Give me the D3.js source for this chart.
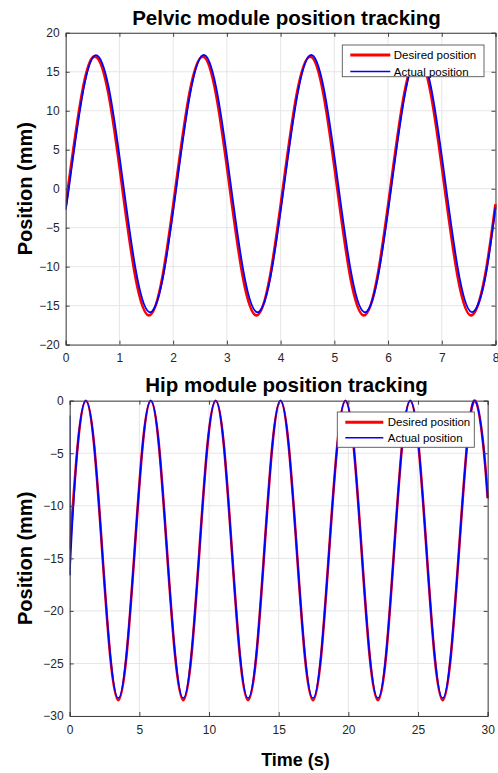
<!DOCTYPE html>
<html>
<head>
<meta charset="utf-8">
<script src="https://cdn.jsdelivr.net/npm/d3@7"></script>
<style>
html,body{margin:0;padding:0;background:#fff;}
svg{display:block;font-family:"Liberation Sans",Arial,sans-serif;}
</style>
</head>
<body>
<svg id="chart" width="498" height="773"></svg>
<script>
// ---------- DATA ----------
const pelvicTime = [0, 0.05, 0.30, 0.55, 0.80, 1.05, 1.30, 1.55, 1.80, 2.05, 2.30, 2.55, 2.80, 3.05, 3.30, 3.55, 3.80,
  4.05, 4.30, 4.55, 4.80, 5.05, 5.30, 5.55, 5.80, 6.05, 6.30, 6.55, 6.80, 7.05, 7.30, 7.55, 7.80, 8];
const pelvicDesired = [-2.0,
  0.35, 12.09, 16.95, 12.09, 0.35, -11.39, -16.25, -11.39,
  0.35, 12.09, 16.95, 12.09, 0.35, -11.39, -16.25, -11.39,
  0.35, 12.09, 16.95, 12.09, 0.35, -11.39, -16.25, -11.39,
  0.35, 12.09, 16.95, 12.09, 0.35, -11.39, -16.25, -11.39,
  -2.0];
const pelvicActual = [-2.4,
  -0.39, 11.56, 17.12, 13.02, 1.69, -10.26, -15.82, -11.72,
  -0.39, 11.56, 17.12, 13.02, 1.69, -10.26, -15.82, -11.72,
  -0.39, 11.56, 17.12, 13.02, 1.69, -10.26, -15.82, -11.72,
  -0.39, 11.56, 17.12, 13.02, 1.69, -10.26, -15.82, -11.72,
  -2.4];

const hipTime = [0, 0.58, 1.16, 1.75, 2.33, 2.91, 3.49, 4.07, 4.66, 5.24, 5.82, 6.40, 6.98, 7.57, 8.15, 8.73,
  9.31, 9.89, 10.48, 11.06, 11.64, 12.22, 12.80, 13.39, 13.97, 14.55, 15.13, 15.71, 16.30, 16.88, 17.46,
  18.04, 18.62, 19.21, 19.79, 20.37, 20.95, 21.53, 22.12, 22.70, 23.28, 23.86, 24.44, 25.03, 25.61, 26.19,
  26.77, 27.35, 27.94, 28.52, 29.10, 29.68, 30];
const hipDesired = [
  -14.25, -4.17, 0, -4.17, -14.25, -24.33, -28.5, -24.33,
  -14.25, -4.17, 0, -4.17, -14.25, -24.33, -28.5, -24.33,
  -14.25, -4.17, 0, -4.17, -14.25, -24.33, -28.5, -24.33,
  -14.25, -4.17, 0, -4.17, -14.25, -24.33, -28.5, -24.33,
  -14.25, -4.17, 0, -4.17, -14.25, -24.33, -28.5, -24.33,
  -14.25, -4.17, 0, -4.17, -14.25, -24.33, -28.5, -24.33,
  -14.25, -4.17, 0, -4.17, -9.28];
// initial jump of the actual position at t = 0
const hipActualStartTime = [0, 0];
const hipActualStart = [-1.4, -16.6];
const hipActualTime = [0, 0.15, 0.58, 1.16, 1.75, 2.33, 2.91, 3.49, 4.07, 4.66, 5.24, 5.82, 6.40, 6.98, 7.57, 8.15, 8.73,
  9.31, 9.89, 10.48, 11.06, 11.64, 12.22, 12.80, 13.39, 13.97, 14.55, 15.13, 15.71, 16.30, 16.88, 17.46,
  18.04, 18.62, 19.21, 19.79, 20.37, 20.95, 21.53, 22.12, 22.70, 23.28, 23.86, 24.44, 25.03, 25.61, 26.19,
  26.77, 27.35, 27.94, 28.52, 29.10, 29.68, 30];
const hipActual = [-16.6, -12.6,
  -4.17, 0, -4.17, -14.25, -24.2, -28.3, -24.2,
  -14.25, -4.17, 0, -4.17, -14.25, -24.2, -28.3, -24.2,
  -14.25, -4.17, 0, -4.17, -14.25, -24.2, -28.3, -24.2,
  -14.25, -4.17, 0, -4.17, -14.25, -24.2, -28.3, -24.2,
  -14.25, -4.17, 0, -4.17, -14.25, -24.2, -28.3, -24.2,
  -14.25, -4.17, 0, -4.17, -14.25, -24.2, -28.3, -24.2,
  -14.25, -4.17, 0, -4.17, -9.28];

const pelvicXTicks = [0, 1, 2, 3, 4, 5, 6, 7, 8];
const pelvicYTicks = [-20, -15, -10, -5, 0, 5, 10, 15, 20];
const hipXTicks = [0, 5, 10, 15, 20, 25, 30];
const hipYTicks = [-30, -25, -20, -15, -10, -5, 0];
const legendLabels = ["Desired position", "Actual position"];
const titles = ["Pelvic module position tracking", "Hip module position tracking"];
const yLabel = "Position (mm)";
const xLabel = "Time (s)";

// ---------- DRAW ----------
const svg = d3.select("#chart");
const axisColor = "#404040";
const textColor = "#262626";

function panel(opt, idx) {
  const x = d3.scaleLinear().domain(opt.xDom).range([opt.left, opt.right]);
  const y = d3.scaleLinear().domain(opt.yDom).range([opt.bottom, opt.top]);
  const g = svg.append("g");

  // grid
  g.append("g").selectAll("line").data(opt.xTicks).join("line")
    .attr("x1", d => x(d)).attr("x2", d => x(d)).attr("y1", opt.top).attr("y2", opt.bottom)
    .attr("stroke", "#e6e6e6").attr("stroke-width", 1);
  g.append("g").selectAll("line").data(opt.yTicks).join("line")
    .attr("y1", d => y(d)).attr("y2", d => y(d)).attr("x1", opt.left).attr("x2", opt.right)
    .attr("stroke", "#e6e6e6").attr("stroke-width", 1);

  // clip
  const cid = "clip" + idx;
  svg.append("clipPath").attr("id", cid).append("rect")
    .attr("x", opt.left).attr("y", opt.top - 3).attr("width", opt.right - opt.left + 3).attr("height", opt.bottom - opt.top + 6);

  const plot = g.append("g").attr("clip-path", `url(#${cid})`);
  opt.series.forEach(s => {
    const pts = s.t.map((t, i) => [t, s.v[i]]);
    const line = d3.line().x(d => x(d[0])).y(d => y(d[1])).curve(s.linear ? d3.curveLinear : d3.curveNatural);
    plot.append("path").attr("d", line(pts)).attr("fill", "none")
      .attr("stroke", s.color).attr("stroke-width", s.width).attr("stroke-linejoin", "round");
  });

  // axes
  const tl = 4;
  const ax = g.append("g").attr("transform", `translate(0,${opt.bottom})`)
    .call(d3.axisBottom(x).tickValues(opt.xTicks).tickSize(-tl).tickPadding(9).tickFormat(d3.format("d")));
  const ay = g.append("g").attr("transform", `translate(${opt.left},0)`)
    .call(d3.axisLeft(y).tickValues(opt.yTicks).tickSize(-tl).tickPadding(6).tickFormat(d3.format("d")));
  const at = g.append("g").attr("transform", `translate(0,${opt.top})`)
    .call(d3.axisTop(x).tickValues(opt.xTicks).tickSize(-tl).tickFormat(""));
  const ar = g.append("g").attr("transform", `translate(${opt.right},0)`)
    .call(d3.axisRight(y).tickValues(opt.yTicks).tickSize(-tl).tickFormat(""));
  [ax, ay, at, ar].forEach(a => {
    a.select(".domain").attr("stroke", axisColor).attr("stroke-width", 1);
    a.selectAll(".tick line").attr("stroke", axisColor).attr("stroke-width", 1);
    a.selectAll(".tick text").attr("fill", textColor).attr("font-size", 12)
      .attr("font-family", "Liberation Sans, Arial, sans-serif");
  });

  // title
  svg.append("text").attr("x", 286.5).attr("y", opt.titleY).attr("text-anchor", "middle")
    .attr("font-size", 20.5).attr("font-weight", "bold").attr("fill", "#000").text(opt.title);
  // y label
  svg.append("text").attr("transform", `translate(32,${(opt.top + opt.bottom) / 2}) rotate(-90)`)
    .attr("text-anchor", "middle").attr("font-size", 20).attr("font-weight", "bold")
    .attr("fill", "#000").text(yLabel);

  // legend
  const L = opt.legend;
  const lg = svg.append("g");
  lg.append("rect").attr("x", L.x).attr("y", L.y).attr("width", L.w).attr("height", L.h)
    .attr("fill", "#fff").attr("stroke", "#555").attr("stroke-width", 0.9);
  L.entries.forEach((e, i) => {
    const yy = L.y + L.rowY[i];
    lg.append("line").attr("x1", L.x + L.lx0).attr("x2", L.x + L.lx1).attr("y1", yy).attr("y2", yy)
      .attr("stroke", e.color).attr("stroke-width", e.width);
    lg.append("text").attr("x", L.x + L.tx).attr("y", yy).attr("dy", "0.35em")
      .attr("font-size", 11.5).attr("fill", "#000").text(legendLabels[i]);
  });
}

const legendEntries = [{ color: "#ff0000", width: 3 }, { color: "#0000ff", width: 1.6 }];

panel({
  left: 65.7, right: 495.5, top: 32.8, bottom: 344.6,
  xDom: [0, 8], yDom: [-20, 20], xTicks: pelvicXTicks, yTicks: pelvicYTicks,
  title: titles[0], titleY: 25,
  series: [
    { t: pelvicTime, v: pelvicDesired, color: "#ff0000", width: 2.8 },
    { t: pelvicTime, v: pelvicActual, color: "#0000ff", width: 1.8 }
  ],
  legend: { x: 342.3, y: 45, w: 141.7, h: 31.7, rowY: [10, 26.5], lx0: 8, lx1: 48, tx: 51.5, entries: legendEntries }
}, 0);

panel({
  left: 69.7, right: 487.7, top: 400.7, bottom: 716,
  xDom: [0, 30], yDom: [-30, 0], xTicks: hipXTicks, yTicks: hipYTicks,
  title: titles[1], titleY: 392,
  series: [
    { t: hipTime, v: hipDesired, color: "#ff0000", width: 2.6 },
    { t: hipActualStartTime, v: hipActualStart, color: "#0000ff", width: 1.7, linear: true },
    { t: hipActualTime, v: hipActual, color: "#0000ff", width: 1.7 }
  ],
  legend: { x: 337.3, y: 412, w: 137, h: 35.3, rowY: [10.3, 25.7], lx0: 8, lx1: 46, tx: 50.5, entries: legendEntries }
}, 1);

svg.append("text").attr("x", 295.5).attr("y", 766).attr("text-anchor", "middle")
  .attr("font-size", 18).attr("font-weight", "bold").attr("fill", "#000").text(xLabel);
</script>
</body>
</html>
